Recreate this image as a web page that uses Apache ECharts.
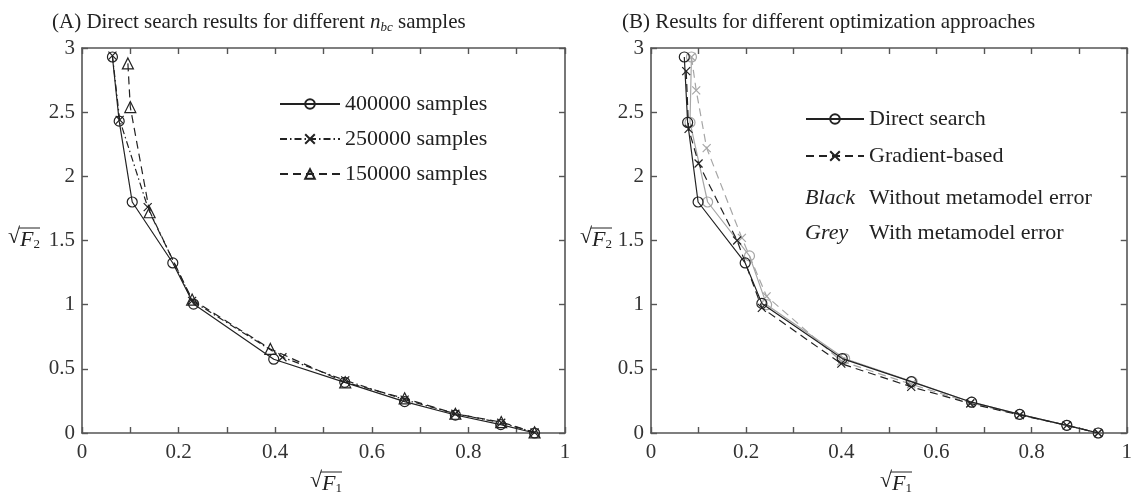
<!DOCTYPE html>
<html lang="en">
<head>
  <meta charset="utf-8">
  <style>
    html, body { margin: 0; padding: 0; background: #fff; }
    #container { width: 1135px; height: 496px; }
  </style>
</head>
<body>
  <div id="container"></div>
  <script type="text/javascript" src="https://fastly.jsdelivr.net/npm/echarts@6/dist/echarts.min.js"></script>
  <script type="text/javascript">
    // (A) direct search, different sample counts
    var s400X = [0.063, 0.077, 0.104, 0.188, 0.231, 0.397, 0.544, 0.668, 0.773, 0.867, 0.937];
    var s400Y = [2.93, 2.43, 1.80, 1.325, 1.005, 0.575, 0.395, 0.245, 0.14, 0.065, 0.0];
    var s250X = [0.063, 0.078, 0.136, 0.228, 0.415, 0.545, 0.668, 0.773, 0.868, 0.937];
    var s250Y = [2.94, 2.44, 1.76, 1.03, 0.59, 0.41, 0.26, 0.15, 0.08, 0.005];
    var s150X = [0.095, 0.100, 0.140, 0.228, 0.390, 0.545, 0.668, 0.773, 0.868, 0.937];
    var s150Y = [2.88, 2.54, 1.72, 1.04, 0.655, 0.395, 0.27, 0.15, 0.085, 0.005];

    // (B) optimization approaches, black = without metamodel error, grey = with
    var dsBlackX = [0.070, 0.077, 0.099, 0.198, 0.233, 0.402, 0.547, 0.674, 0.775, 0.874, 0.940];
    var dsBlackY = [2.93, 2.42, 1.80, 1.325, 1.01, 0.58, 0.40, 0.24, 0.145, 0.06, 0.0];
    var gbBlackX = [0.074, 0.079, 0.100, 0.181, 0.233, 0.400, 0.547, 0.671, 0.775, 0.874, 0.940];
    var gbBlackY = [2.82, 2.37, 2.10, 1.50, 0.975, 0.54, 0.36, 0.23, 0.14, 0.06, 0.0];
    var dsGreyX = [0.085, 0.082, 0.119, 0.207, 0.243, 0.407, 0.549, 0.674, 0.775, 0.874, 0.940];
    var dsGreyY = [2.93, 2.42, 1.80, 1.38, 1.00, 0.58, 0.40, 0.24, 0.145, 0.06, 0.0];
    var gbGreyX = [0.085, 0.095, 0.117, 0.191, 0.243, 0.400, 0.547, 0.672, 0.775, 0.874, 0.940];
    var gbGreyY = [2.93, 2.67, 2.22, 1.52, 1.065, 0.56, 0.38, 0.235, 0.14, 0.06, 0.0];

    var xTicks = [0, 0.2, 0.4, 0.6, 0.8, 1];

    var FONT = '"Liberation Serif", "DejaVu Serif", serif';
    var AXIS = '#555';
    var INK = '#222';
    var GREY = '#a6a6a6';
    var CROSS = 'path://M0,0L10,10M0,10L10,0';

    function zip(xs, ys) {
      return xs.map(function (x, i) { return [x, ys[i]]; });
    }

    function xAx(grid, pos) {
      return {
        type: 'value', gridIndex: grid, position: pos, min: 0, max: 1, interval: 0.1,
        axisLine: { onZero: false, lineStyle: { color: AXIS, width: 1.6 } },
        axisTick: { inside: true, length: 6, lineStyle: { color: AXIS, width: 1.4 } },
        splitLine: { show: false },
        axisLabel: {
          show: pos === 'bottom', fontFamily: FONT, fontSize: 21, color: '#333', margin: 9,
          formatter: function (v) {
            var r = Math.round(v * 10) / 10;
            return xTicks.indexOf(r) >= 0 ? String(r) : '';
          }
        }
      };
    }

    function yAx(grid, pos) {
      return {
        type: 'value', gridIndex: grid, position: pos, min: 0, max: 3, interval: 0.5,
        axisLine: { onZero: false, lineStyle: { color: AXIS, width: 1.6 } },
        axisTick: { inside: true, length: 6, lineStyle: { color: AXIS, width: 1.4 } },
        splitLine: { show: false },
        axisLabel: { show: pos === 'left', fontFamily: FONT, fontSize: 21, color: '#333', margin: 7 }
      };
    }

    function line(name, xs, ys, axis, color, dash, symbol, size, fill) {
      return {
        name: name, type: 'line', xAxisIndex: axis, yAxisIndex: axis,
        data: zip(xs, ys),
        symbol: symbol, symbolSize: size,
        lineStyle: { color: color, width: 1.2, type: dash },
        itemStyle: { color: fill, borderColor: color, borderWidth: 1.2 },
        emphasis: { disabled: true },
        z: color === INK ? 3 : 2
      };
    }

    function sqrtLabel(x, y, sub) {
      return {
        type: 'group', x: x, y: y,
        children: [
          { type: 'text', x: 0, y: 0, style: { text: '\u221A', font: '22px ' + FONT, fill: INK, verticalAlign: 'top' } },
          { type: 'line', shape: { x1: 11, y1: 2, x2: 32, y2: 2 }, style: { stroke: INK, lineWidth: 1 } },
          {
            type: 'text', x: 12, y: 3,
            style: {
              text: '{f|F}{s|' + sub + '}', verticalAlign: 'top',
              rich: {
                f: { fontFamily: FONT, fontSize: 22, fontStyle: 'italic', fill: INK, lineHeight: 22 },
                s: { fontFamily: FONT, fontSize: 13, fill: INK, lineHeight: 13, verticalAlign: 'bottom' }
              }
            }
          }
        ]
      };
    }

    var titleRich = {
      i: { fontFamily: FONT, fontSize: 21, fontStyle: 'italic', color: INK, lineHeight: 24 },
      s: { fontFamily: FONT, fontSize: 13, fontStyle: 'italic', color: INK, lineHeight: 13, verticalAlign: 'bottom' }
    };

    var chart = echarts.init(document.getElementById('container'));
    chart.setOption({
      animation: false,
      backgroundColor: '#fff',
      title: [
        {
          text: '(A) Direct search results for different {i|n}{s|bc} samples',
          left: 52, top: 10, padding: 0,
          textStyle: { fontFamily: FONT, fontSize: 21, fontWeight: 'normal', color: INK, rich: titleRich }
        },
        {
          text: '(B) Results for different optimization approaches',
          left: 622, top: 12, padding: 0,
          textStyle: { fontFamily: FONT, fontSize: 21, fontWeight: 'normal', color: INK }
        }
      ],
      legend: [
        {
          data: ['400000 samples', '250000 samples', '150000 samples'],
          orient: 'vertical', left: 279, top: 93, padding: 0,
          itemWidth: 60, itemHeight: 12, itemGap: 13,
          textStyle: { fontFamily: FONT, fontSize: 22, color: INK }
        },
        {
          data: ['Direct search', 'Gradient-based'],
          orient: 'vertical', left: 805, top: 108, padding: 0,
          itemWidth: 58, itemHeight: 12, itemGap: 15,
          textStyle: { fontFamily: FONT, fontSize: 22, color: INK }
        }
      ],
      grid: [
        { left: 82, right: 570, top: 48, bottom: 63, show: false },
        { left: 651, right: 1, top: 48, bottom: 63, show: false }
      ],
      xAxis: [xAx(0, 'bottom'), xAx(0, 'top'), xAx(1, 'bottom'), xAx(1, 'top')],
      yAxis: [yAx(0, 'left'), yAx(0, 'right'), yAx(1, 'left'), yAx(1, 'right')],
      series: [
        line('400000 samples', s400X, s400Y, 0, INK, 'solid', 'circle', 10, 'rgba(0,0,0,0)'),
        line('250000 samples', s250X, s250Y, 0, INK, [7, 3, 1.5, 3], CROSS, 8, INK),
        line('150000 samples', s150X, s150Y, 0, INK, [8, 5], 'triangle', 11, 'rgba(0,0,0,0)'),
        line('Direct search (with metamodel error)', dsGreyX, dsGreyY, 2, GREY, 'solid', 'circle', 10, 'rgba(0,0,0,0)'),
        line('Gradient-based (with metamodel error)', gbGreyX, gbGreyY, 2, GREY, [8, 5], CROSS, 8, GREY),
        line('Direct search', dsBlackX, dsBlackY, 2, INK, 'solid', 'circle', 10, 'rgba(0,0,0,0)'),
        line('Gradient-based', gbBlackX, gbBlackY, 2, INK, [8, 5], CROSS, 8, INK)
      ],
      graphic: [
        sqrtLabel(8, 226, '2'),
        sqrtLabel(310, 470, '1'),
        sqrtLabel(580, 226, '2'),
        sqrtLabel(880, 470, '1'),
        { type: 'text', x: 805, y: 198, style: { text: 'Black', font: 'italic 22px ' + FONT, fill: INK, verticalAlign: 'middle' } },
        { type: 'text', x: 869, y: 198, style: { text: 'Without metamodel error', font: '22px ' + FONT, fill: INK, verticalAlign: 'middle' } },
        { type: 'text', x: 805, y: 233, style: { text: 'Grey', font: 'italic 22px ' + FONT, fill: INK, verticalAlign: 'middle' } },
        { type: 'text', x: 869, y: 233, style: { text: 'With metamodel error', font: '22px ' + FONT, fill: INK, verticalAlign: 'middle' } }
      ]
    });
  </script>
</body>
</html>
